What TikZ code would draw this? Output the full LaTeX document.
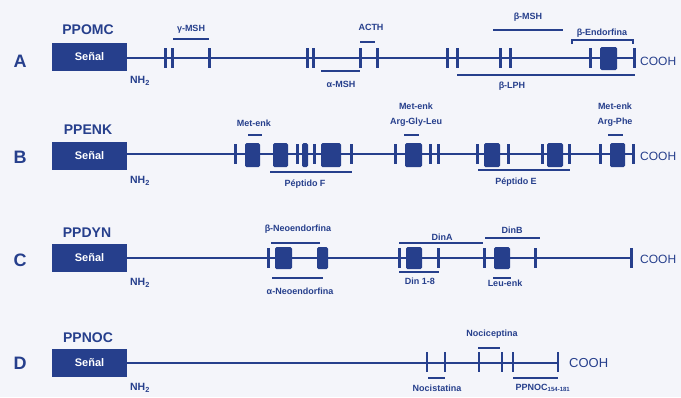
\documentclass[tikz,border=0pt]{standalone}
\usepackage{fontspec}
\setmainfont{Liberation Sans}
\definecolor{pblue}{HTML}{263F8C}
\definecolor{bgc}{HTML}{F4F5FA}
\begin{document}
\begin{tikzpicture}[x=1pt,y=-1pt,
  chain/.style={draw=pblue,line width=2pt},
  tk/.style={draw=pblue,line width=3pt},
  blk/.style={fill=pblue,rounded corners=1.5pt},
  br/.style={draw=pblue,line width=1.8pt},
  lbl/.style={text=pblue,font=\bfseries\fontsize{9}{10}\selectfont,inner sep=0pt},
  rowname/.style={text=pblue,font=\bfseries\fontsize{14}{15}\selectfont,inner sep=0pt},
  letter/.style={text=pblue,font=\bfseries\fontsize{18}{19}\selectfont,inner sep=0pt},
  sig/.style={fill=pblue,text=white,minimum width=75pt,minimum height=28pt,inner sep=0pt,font=\bfseries\fontsize{11}{12}\selectfont},
  term/.style={text=pblue,font=\fontsize{12}{13}\selectfont,inner sep=0pt,anchor=west},
  nh/.style={text=pblue,font=\bfseries\fontsize{10.5}{11}\selectfont,inner sep=0pt}]

\fill[bgc] (0,0) rectangle (681,397);
\useasboundingbox (0,0) rectangle (681,397);

% ---------- Row A ----------
\node[letter] (lA) at (20,61) {A};
\node[sig] (sA) at (89.5,57) {Señal};
\node[rowname] (nA) at (88,30) {PPOMC};
\node[nh] (hA) at (140,81) {NH\textsubscript{2}};
\coordinate (eA) at (634,58);
\draw[chain] (sA.east |- eA) -- (eA);
\foreach \x in {165,172,209,307,313,360,377,447,457,500,510,590,634}
  \draw[tk] (\x,48) -- (\x,68);
\fill[blk] (600,47) rectangle (617,70);
\node[term] (cA) at (640,61) {COOH};
\draw[br] (173,39) -- (209,39);
\node[lbl] at (191,29) {γ-MSH};
\draw[br] (360,42) -- (375,42);
\node[lbl] at (371,27) {ACTH};
\draw[br] (321,71) -- (360,71);
\node[lbl] at (341,84) {α-MSH};
\draw[br] (493,30) -- (563,30);
\node[lbl] at (528,17) {β-MSH};
\draw[draw=pblue,line width=1.5pt] (572,44) -- (572,40) -- (633,40) -- (633,44);
\node[lbl] at (602,33) {β-Endorfina};
\draw[br] (457,75) -- (635,75);
\node[lbl] at (512,86) {β-LPH};

% ---------- Row B ----------
\node[letter] (lB) at (20,157) {B};
\node[sig] (sB) at (89.5,155.5) {Señal};
\node[rowname] (nB) at (88,130) {PPENK};
\node[nh] (hB) at (140,181) {NH\textsubscript{2}};
\coordinate (eB) at (633,154);
\draw[chain] (sB.east |- eB) -- (eB);
\foreach \x in {235,297,314,351,395,430,438,477,508,542,569,600,633}
  \draw[tk] (\x,144) -- (\x,164);
\foreach \a/\b in {245/260,273/288,302/308,321/341,405/422,484/500,547/563,610/625}
  \fill[blk] (\a,143) rectangle (\b,167);
\node[term] (cB) at (640,156) {COOH};
\node[lbl] at (254,123) {Met-enk};
\draw[br] (248,135) -- (262,135);
\draw[br] (270,172) -- (352,172);
\node[lbl] at (305,184) {Péptido F};
\node[lbl] at (416,106) {Met-enk};
\node[lbl] at (416,122) {Arg-Gly-Leu};
\draw[br] (404,135) -- (419,135);
\draw[br] (478,170) -- (570,170);
\node[lbl] at (516,182) {Péptido E};
\node[lbl] at (615,106) {Met-enk};
\node[lbl] at (615,122) {Arg-Phe};
\draw[br] (608,135) -- (623,135);

% ---------- Row C ----------
\node[letter] (lC) at (20,260) {C};
\node[sig] (sC) at (89.5,258) {Señal};
\node[rowname] (nC) at (87,233) {PPDYN};
\node[nh] (hC) at (140,283) {NH\textsubscript{2}};
\coordinate (eC) at (631,258);
\draw[chain] (sC.east |- eC) -- (eC);
\foreach \x in {268,399,438,484,535,631}
  \draw[tk] (\x,248) -- (\x,268);
\foreach \a/\b in {275/292,317/328,406/422,494/510}
  \fill[blk] (\a,247) rectangle (\b,269);
\node[term] (cC) at (640,259) {COOH};
\draw[br] (271,243) -- (320,243);
\node[lbl] at (298,229) {β-Neoendorfina};
\draw[br] (272,278) -- (323,278);
\node[lbl] at (300,291) {α-Neoendorfina};
\draw[br] (399,243) -- (483,243);
\node[lbl] at (442,237) {DinA};
\draw[br] (485,238) -- (540,238);
\node[lbl] at (512,230) {DinB};
\draw[br] (399,272) -- (439,272);
\node[lbl] at (420,281) {Din 1-8};
\draw[br] (493,278) -- (511,278);
\node[lbl] at (505,283) {Leu-enk};

% ---------- Row D ----------
\node[letter] (lD) at (20,363) {D};
\node[sig] (sD) at (89.5,362.5) {Señal};
\node[rowname] (nD) at (88,338) {PPNOC};
\node[nh] (hD) at (140,388) {NH\textsubscript{2}};
\coordinate (eD) at (558,363);
\draw[draw=pblue,line width=1.5pt] (sD.east |- eD) -- (eD);
\foreach \x in {427,445,479,502,513,558}
  \draw[draw=pblue,line width=2.5pt] (\x,352) -- (\x,372);
\node[term,font=\fontsize{13}{14}\selectfont] (cD) at (569,363) {COOH};
\draw[br] (478,348) -- (500,348);
\node[lbl] at (492,334) {Nociceptina};
\draw[br] (428,378) -- (445,378);
\node[lbl] at (437,388) {Nocistatina};
\draw[br] (513,378) -- (558,378);
\node[lbl] at (543,388) {PPNOC\textsubscript{154-181}};
\end{tikzpicture}
\end{document}
